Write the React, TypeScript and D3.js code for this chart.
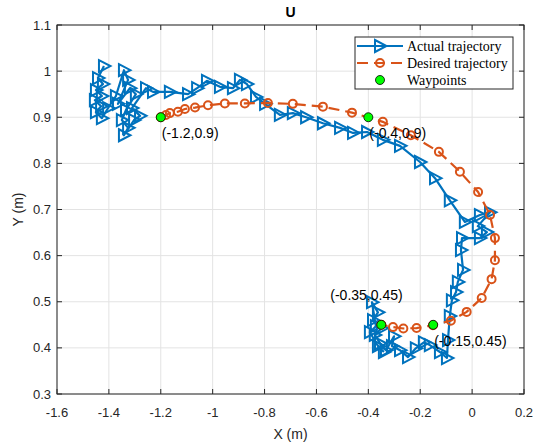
import React from "react";
import * as d3 from "d3";

// Axis ticks
const xTicks = [-1.6, -1.4, -1.2, -1, -0.8, -0.6, -0.4, -0.2, 0, 0.2];
const yTicks = [0.3, 0.4, 0.5, 0.6, 0.7, 0.8, 0.9, 1, 1.1];

// Measured robot path
const actualX = [
  -1.419, -1.442, -1.423, -1.45, -1.427, -1.454, -1.43, -1.45, -1.427, -1.403,
  -1.373, -1.342, -1.326, -1.365, -1.319, -1.296, -1.334, -1.35, -1.326, -1.342,
  -1.303, -1.28, -1.311, -1.257, -1.23, -1.165, -1.095, -1.06, -1.022, -0.972,
  -0.922, -0.895, -0.868, -0.833, -0.798, -0.741, -0.691, -0.64, -0.575, -0.509,
  -0.459, -0.405, -0.344, -0.278, -0.201, -0.143, -0.086, -0.028, 0.03, 0.069,
  0.022, 0.057, 0.03, -0.039, -0.043, -0.035, -0.055, -0.062, -0.078, -0.086,
  -0.093, -0.097, -0.124, -0.163, -0.186, -0.217, -0.247, -0.278, -0.309, -0.301,
  -0.332, -0.355, -0.375, -0.348, -0.382, -0.363, -0.386, -0.371, -0.394, -0.363,
  -0.34,
];
const actualY = [
  1.011, 0.985, 0.972, 0.959, 0.946, 0.937, 0.924, 0.911, 0.898, 0.92,
  0.946, 1.002, 0.981, 0.929, 0.963, 0.95, 0.916, 0.894, 0.877, 0.861,
  0.894, 0.903, 0.92, 0.963, 0.955, 0.955, 0.95, 0.963, 0.979, 0.966,
  0.963, 0.981, 0.972, 0.944, 0.929, 0.905, 0.909, 0.9, 0.887, 0.877,
  0.866, 0.868, 0.851, 0.838, 0.803, 0.768, 0.72, 0.673, 0.688, 0.694,
  0.664, 0.651, 0.638, 0.638, 0.612, 0.569, 0.543, 0.521, 0.503, 0.469,
  0.417, 0.378, 0.391, 0.406, 0.412, 0.399, 0.38, 0.395, 0.404, 0.425,
  0.395, 0.41, 0.428, 0.443, 0.46, 0.477, 0.499, 0.447, 0.434, 0.404,
  0.391,
];

// Reference path
const desiredX = [
  -1.2, -1.18, -1.165, -1.134, -1.107, -1.068, -1.018, -0.953, -0.876, -0.787,
  -0.691, -0.575, -0.463, -0.344, -0.236, -0.128, -0.047, 0.023, 0.069, 0.088,
  0.088, 0.075, 0.037, -0.021, -0.082, -0.151, -0.214, -0.265, -0.305, -0.35,
];
const desiredY = [
  0.9, 0.905, 0.909, 0.912, 0.918, 0.921, 0.926, 0.93, 0.93, 0.931,
  0.929, 0.923, 0.91, 0.89, 0.861, 0.825, 0.782, 0.738, 0.688, 0.638,
  0.59, 0.549, 0.508, 0.478, 0.459, 0.449, 0.443, 0.442, 0.445, 0.45,
];

// Waypoints
const waypointX = [-1.2, -0.4, -0.35, -0.15];
const waypointY = [0.9, 0.9, 0.45, 0.45];
const waypointLabels = ["(-1.2,0.9)", "(-0.4,0.9)", "(-0.35,0.45)", "(-0.15,0.45)"];

const W = 533;
const H = 445;
const left = 57;
const right = 524;
const top = 25;
const bottom = 394;

const BLUE = "#0072BD";
const ORANGE = "#D95319";
const AXIS = "#262626";
const GRID = "#e3e3e3";
const SANS = "'Liberation Sans', Arial, Helvetica, sans-serif";
const SERIF = "'Liberation Serif', 'Times New Roman', serif";

const TRI = "M-5,-6 L6.5,0 L-5,6 Z";

export default function App() {
  const x = d3.scaleLinear().domain([-1.6, 0.2]).range([left, right]);
  const y = d3.scaleLinear().domain([0.3, 1.1]).range([bottom, top]);

  const actual = actualX.map((v, i) => [v, actualY[i]] as [number, number]);
  const desired = desiredX.map((v, i) => [v, desiredY[i]] as [number, number]);

  const line = d3
    .line<[number, number]>()
    .x((d) => x(d[0]))
    .y((d) => y(d[1]));

  const tickLen = 5;

  return (
    <svg
      width={W}
      height={H}
      style={{ position: "absolute", left: 0, top: 0, background: "#fff" }}
    >
      <rect x={0} y={0} width={W} height={H} fill="#fff" />
      {/* grid */}
      {xTicks.map((t) => (
        <line key={"gx" + t} x1={x(t)} x2={x(t)} y1={top} y2={bottom} stroke={GRID} strokeWidth={1} />
      ))}
      {yTicks.map((t) => (
        <line key={"gy" + t} x1={left} x2={right} y1={y(t)} y2={y(t)} stroke={GRID} strokeWidth={1} />
      ))}

      {/* actual trajectory */}
      <path d={line(actual) || ""} fill="none" stroke={BLUE} strokeWidth={2.2} strokeLinejoin="round" />
      {actual.map((d, i) => (
        <path
          key={"a" + i}
          d={TRI}
          transform={`translate(${x(d[0])},${y(d[1])})`}
          fill="none"
          stroke={BLUE}
          strokeWidth={2}
          strokeLinejoin="miter"
        />
      ))}

      {/* desired trajectory */}
      <path
        d={line(desired) || ""}
        fill="none"
        stroke={ORANGE}
        strokeWidth={2.2}
        strokeDasharray="11,6"
      />
      {desired.map((d, i) => (
        <circle key={"d" + i} cx={x(d[0])} cy={y(d[1])} r={4} fill="none" stroke={ORANGE} strokeWidth={2} />
      ))}

      {/* waypoints */}
      {waypointX.map((v, i) => (
        <circle key={"w" + i} cx={x(v)} cy={y(waypointY[i])} r={4.5} fill="#00ff00" stroke="#000" strokeWidth={0.8} />
      ))}
      {waypointLabels.map((lab, i) => {
        const px = x(waypointX[i]);
        const py = y(waypointY[i]);
        const alt = i === 2;
        return (
          <text
            key={"l" + i}
            x={alt ? px - 51 : px + 1}
            y={alt ? py - 30 : py + 16}
            dominantBaseline="central"
            fontFamily={SANS}
            fontSize={14}
            fill="#000"
          >
            {lab}
          </text>
        );
      })}

      {/* axes box */}
      <rect x={left} y={top} width={right - left} height={bottom - top} fill="none" stroke={AXIS} strokeWidth={1} />
      {xTicks.map((t) => (
        <g key={"tx" + t}>
          <line x1={x(t)} x2={x(t)} y1={bottom} y2={bottom - tickLen} stroke={AXIS} strokeWidth={1} />
          <line x1={x(t)} x2={x(t)} y1={top} y2={top + tickLen} stroke={AXIS} strokeWidth={1} />
          <text x={x(t)} y={bottom + 18} textAnchor="middle" dominantBaseline="central" fontFamily={SANS} fontSize={13} fill={AXIS}>
            {String(t)}
          </text>
        </g>
      ))}
      {yTicks.map((t) => (
        <g key={"ty" + t}>
          <line x1={left} x2={left + tickLen} y1={y(t)} y2={y(t)} stroke={AXIS} strokeWidth={1} />
          <line x1={right} x2={right - tickLen} y1={y(t)} y2={y(t)} stroke={AXIS} strokeWidth={1} />
          <text x={left - 6} y={y(t)} textAnchor="end" dominantBaseline="central" fontFamily={SANS} fontSize={13} fill={AXIS}>
            {String(t)}
          </text>
        </g>
      ))}

      {/* axis labels and title */}
      <text x={(left + right) / 2} y={434} textAnchor="middle" dominantBaseline="central" fontFamily={SANS} fontSize={14} fill={AXIS}>
        X (m)
      </text>
      <text
        transform={`translate(18,${(top + bottom) / 2}) rotate(-90)`}
        textAnchor="middle"
        dominantBaseline="central"
        fontFamily={SANS}
        fontSize={14}
        fill={AXIS}
      >
        Y (m)
      </text>
      <text x={(left + right) / 2} y={12} textAnchor="middle" dominantBaseline="central" fontFamily={SANS} fontSize={14} fontWeight="bold" fill="#000">
        U
      </text>

      {/* legend */}
      <g>
        <rect x={355} y={37} width={158} height={52} fill="#fff" stroke={AXIS} strokeWidth={1} />
        <line x1={357} x2={403} y1={46} y2={46} stroke={BLUE} strokeWidth={2.2} />
        <path d={TRI} transform="translate(380,46)" fill="none" stroke={BLUE} strokeWidth={2} />
        <text x={407} y={46} dominantBaseline="central" fontFamily={SERIF} fontSize={14} fill="#000">
          Actual trajectory
        </text>
        <line x1={357} x2={403} y1={63} y2={63} stroke={ORANGE} strokeWidth={2.2} strokeDasharray="11,6" />
        <circle cx={380} cy={63} r={4} fill="none" stroke={ORANGE} strokeWidth={2} />
        <text x={407} y={63} dominantBaseline="central" fontFamily={SERIF} fontSize={14} fill="#000">
          Desired trajectory
        </text>
        <circle cx={380} cy={80} r={4.5} fill="#00ff00" stroke="#000" strokeWidth={0.8} />
        <text x={407} y={80} dominantBaseline="central" fontFamily={SERIF} fontSize={14} fill="#000">
          Waypoints
        </text>
      </g>
    </svg>
  );
}
